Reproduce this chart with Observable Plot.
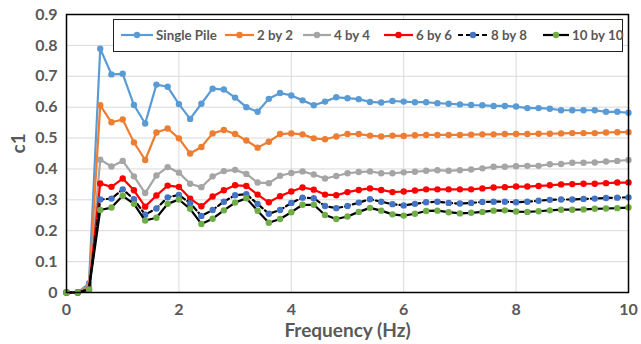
<!DOCTYPE html>
<html>
<head>
<meta charset="utf-8">
<script src="https://cdn.jsdelivr.net/npm/d3@7"></script>
<script src="https://cdn.jsdelivr.net/npm/@observablehq/plot@0.6"></script>
<style>
  body { margin: 0; background: #fff; }
  #wrap { position: relative; width: 641px; height: 344px; font-family: Lato, "Open Sans", sans-serif; }
  #legend { position: absolute; left: 113px; top: 19px; width: 510px; height: 33px; background: #fff;
            border: 1.3px solid #222; box-sizing: border-box;
            font-weight: bold; font-size: 13.3px; color: #595959; }
  .item { position: absolute; top: 0; height: 30px; display: flex; align-items: center; white-space: nowrap; }
  .item svg { margin-right: 3px; }
</style>
</head>
<body>
<div id="wrap"></div>
<script>
const freq = [0,0.2,0.4,0.6,0.8,1.0,1.2,1.4,1.6,1.8,2.0,2.2,2.4,2.6,2.8,3.0,3.2,3.4,3.6,3.8,4.0,
  4.2,4.4,4.6,4.8,5.0,5.2,5.4,5.6,5.8,6.0,6.2,6.4,6.6,6.8,7.0,7.2,7.4,7.6,7.8,8.0,
  8.2,8.4,8.6,8.8,9.0,9.2,9.4,9.6,9.8,10.0];

const singlePile = [0,0,0.03,0.789,0.706,0.708,0.607,0.547,0.673,0.666,0.610,
  0.562,0.611,0.660,0.657,0.631,0.600,0.585,0.627,0.646,0.638,
  0.622,0.606,0.618,0.632,0.629,0.626,0.617,0.615,0.620,0.618,
  0.616,0.616,0.613,0.611,0.609,0.607,0.606,0.604,0.604,0.602,
  0.597,0.597,0.595,0.590,0.590,0.590,0.590,0.585,0.585,0.582];
const by2 = [0,0,0.02,0.606,0.551,0.560,0.486,0.429,0.518,0.531,0.499,
  0.450,0.471,0.515,0.526,0.513,0.492,0.469,0.488,0.513,0.515,
  0.512,0.499,0.496,0.505,0.513,0.513,0.508,0.505,0.508,0.507,
  0.509,0.510,0.510,0.510,0.510,0.511,0.512,0.512,0.513,0.513,
  0.513,0.514,0.514,0.515,0.516,0.516,0.516,0.518,0.519,0.519];
const by4 = [0,0,0.015,0.430,0.408,0.426,0.376,0.322,0.379,0.406,0.388,
  0.352,0.341,0.376,0.393,0.397,0.384,0.356,0.354,0.378,0.387,
  0.392,0.382,0.369,0.377,0.386,0.390,0.392,0.386,0.386,0.389,
  0.391,0.394,0.396,0.394,0.396,0.398,0.402,0.407,0.407,0.409,
  0.410,0.410,0.415,0.416,0.420,0.420,0.421,0.424,0.426,0.429];
const by6 = [0,0,0.01,0.353,0.342,0.369,0.331,0.278,0.314,0.346,0.342,
  0.304,0.279,0.311,0.331,0.347,0.345,0.317,0.292,0.312,0.327,
  0.340,0.333,0.317,0.315,0.325,0.332,0.337,0.332,0.325,0.327,
  0.330,0.334,0.334,0.334,0.334,0.334,0.337,0.340,0.341,0.343,
  0.343,0.345,0.347,0.350,0.351,0.352,0.352,0.354,0.356,0.356];
const by8 = [0,0,0.01,0.301,0.304,0.334,0.302,0.252,0.272,0.308,0.316,
  0.289,0.248,0.267,0.294,0.315,0.318,0.287,0.255,0.267,0.290,
  0.307,0.305,0.280,0.273,0.280,0.291,0.302,0.294,0.286,0.282,
  0.287,0.292,0.294,0.290,0.288,0.290,0.293,0.294,0.294,0.292,
  0.294,0.297,0.300,0.301,0.301,0.303,0.304,0.306,0.307,0.308];
const by10 = [0,0,0.01,0.267,0.275,0.313,0.287,0.233,0.242,0.287,0.301,
  0.271,0.222,0.239,0.266,0.291,0.305,0.265,0.226,0.238,0.260,
  0.284,0.284,0.251,0.238,0.246,0.261,0.274,0.265,0.253,0.249,
  0.255,0.264,0.265,0.260,0.256,0.258,0.261,0.265,0.266,0.262,
  0.261,0.263,0.266,0.268,0.268,0.269,0.271,0.272,0.273,0.275];

const seriesNames = ["Single Pile","2 by 2","4 by 4","6 by 6","8 by 8","10 by 10"];
const seriesValues = [singlePile, by2, by4, by6, by8, by10];
const lineColors = ["#5B9BD5","#ED7D31","#A5A5A5","#FF0000","#000000","#000000"];
const dotColors  = ["#5B9BD5","#ED7D31","#A5A5A5","#FF0000","#4472C4","#70AD47"];
const dashes = [null,null,null,null,"5,3",null];

const yTicks = [0,0.1,0.2,0.3,0.4,0.5,0.6,0.7,0.8,0.9];
const xTicks = [0,2,4,6,8,10];

const marks = [
  Plot.gridY(yTicks, {stroke: "#d9d9d9", strokeOpacity: 1, strokeWidth: 1}),
  Plot.gridX(xTicks, {stroke: "#d9d9d9", strokeOpacity: 1, strokeWidth: 1})
];
seriesValues.forEach((vals, i) => {
  const data = freq.map((f, j) => ({f, v: vals[j]}));
  marks.push(Plot.line(data, {x: "f", y: "v", stroke: lineColors[i], strokeWidth: 2.2,
    strokeDasharray: dashes[i] || undefined, curve: "linear"}));
  marks.push(Plot.dot(data, {x: "f", y: "v", r: 3.2, fill: dotColors[i], stroke: "none"}));
});
marks.push(
  Plot.frame({stroke: "#000", strokeWidth: 1.5}),
  Plot.axisY(yTicks, {tickSize: 0, tickPadding: 9, label: null,
    tickFormat: d => d === 0 ? "0" : d.toFixed(1), fontSize: 16, fontWeight: "bold", fill: "#595959"}),
  Plot.axisX(xTicks, {tickSize: 0, tickPadding: 11, label: null,
    tickFormat: d => String(d), fontSize: 16, fontWeight: "bold", fill: "#595959"}),
  Plot.text(["Frequency (Hz)"], {frameAnchor: "bottom", lineAnchor: "middle", dy: 38, fontSize: 19, fontWeight: "bold", fill: "#595959"}),
  Plot.text(["c1"], {frameAnchor: "left", lineAnchor: "middle", dx: -48, rotate: -90, fontSize: 19, fontWeight: "bold", fill: "#595959"})
);

const chart = Plot.plot({
  width: 641, height: 344,
  marginLeft: 66, marginRight: 13, marginTop: 14, marginBottom: 52,
  x: {domain: [0, 10]},
  y: {domain: [0, 0.9]},
  style: {fontFamily: "Lato, 'Open Sans', sans-serif", background: "#fff"},
  marks
});
const wrap = document.getElementById("wrap");
wrap.appendChild(chart);

const legendX = [7, 111, 189, 270, 344, 429];
const legendLineW = [32, 29, 28, 29, 30, 26];
const legend = document.createElement("div");
legend.id = "legend";
seriesNames.forEach((name, i) => {
  const item = document.createElement("div");
  item.className = "item";
  item.style.left = legendX[i] + "px";
  const w = legendLineW[i];
  const dash = dashes[i] ? `stroke-dasharray="${dashes[i]}"` : "";
  item.innerHTML = `<svg width="${w}" height="10"><line x1="0" y1="5" x2="${w}" y2="5" stroke="${lineColors[i]}" stroke-width="2.2" ${dash}/><circle cx="${w/2}" cy="5" r="3.2" fill="${dotColors[i]}"/></svg><span>${name}</span>`;
  legend.appendChild(item);
});
wrap.appendChild(legend);
</script>
</body>
</html>
